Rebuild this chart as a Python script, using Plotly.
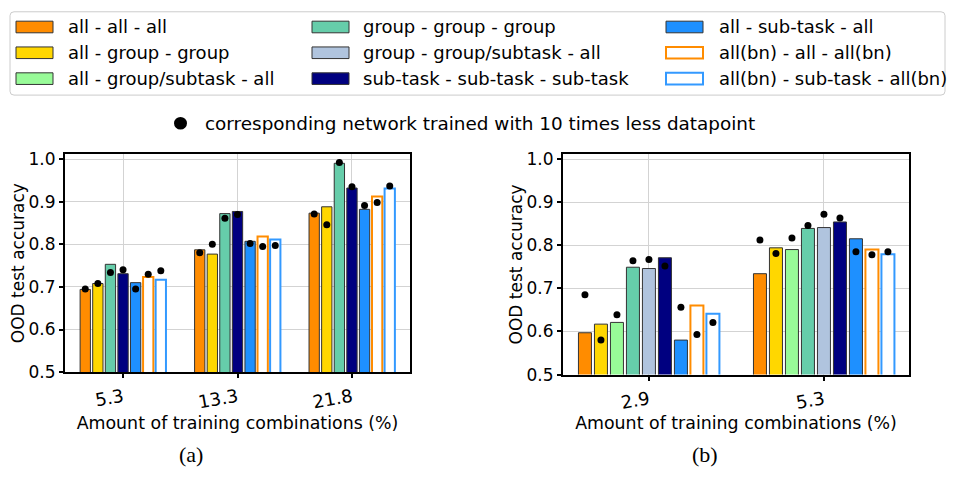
import plotly.graph_objects as go

# ---------------- data ----------------
names = [
    "all - all - all",
    "all - group - group",
    "all - group/subtask - all",
    "group - group - group",
    "group - group/subtask - all",
    "sub-task - sub-task - sub-task",
    "all - sub-task - all",
    "all(bn) - all - all(bn)",
    "all(bn) - sub-task - all(bn)",
]

# panel (a)
a_ticks = ["5.3", "13.3", "21.8"]
a_series = [
    "all - all - all",
    "all - group - group",
    "group - group - group",
    "sub-task - sub-task - sub-task",
    "all - sub-task - all",
    "all(bn) - all - all(bn)",
    "all(bn) - sub-task - all(bn)",
]
a_acc = {
    "all - all - all": [0.694, 0.787, 0.873],
    "all - group - group": [0.708, 0.777, 0.888],
    "group - group - group": [0.753, 0.872, 0.990],
    "sub-task - sub-task - sub-task": [0.731, 0.877, 0.932],
    "all - sub-task - all": [0.710, 0.807, 0.882],
    "all(bn) - all - all(bn)": [0.723, 0.818, 0.912],
    "all(bn) - sub-task - all(bn)": [0.717, 0.811, 0.931],
}
a_acc_small = {
    "all - all - all": [0.695, 0.780, 0.871],
    "all - group - group": [0.708, 0.800, 0.846],
    "group - group - group": [0.734, 0.861, 0.992],
    "sub-task - sub-task - sub-task": [0.740, 0.870, 0.935],
    "all - sub-task - all": [0.695, 0.802, 0.891],
    "all(bn) - all - all(bn)": [0.730, 0.795, 0.898],
    "all(bn) - sub-task - all(bn)": [0.738, 0.797, 0.937],
}

# panel (b)
b_ticks = ["2.9", "5.3"]
b_series = names
b_acc = {
    "all - all - all": [0.597, 0.734],
    "all - group - group": [0.617, 0.794],
    "all - group/subtask - all": [0.621, 0.790],
    "group - group - group": [0.749, 0.839],
    "group - group/subtask - all": [0.746, 0.841],
    "sub-task - sub-task - sub-task": [0.771, 0.854],
    "all - sub-task - all": [0.580, 0.815],
    "all(bn) - all - all(bn)": [0.660, 0.790],
    "all(bn) - sub-task - all(bn)": [0.641, 0.779],
}
b_acc_small = {
    "all - all - all": [0.685, 0.812],
    "all - group - group": [0.580, 0.781],
    "all - group/subtask - all": [0.639, 0.817],
    "group - group - group": [0.764, 0.846],
    "group - group/subtask - all": [0.767, 0.872],
    "sub-task - sub-task - sub-task": [0.752, 0.863],
    "all - sub-task - all": [0.656, 0.785],
    "all(bn) - all - all(bn)": [0.593, 0.778],
    "all(bn) - sub-task - all(bn)": [0.621, 0.785],
}

# ---------------- styles ----------------
FONT = "DejaVu Sans"
EDGE = "#333333"
style = {
    "all - all - all": ("#FF8C00", EDGE, 1),
    "all - group - group": ("#FFD700", EDGE, 1),
    "all - group/subtask - all": ("#98FB98", EDGE, 1),
    "group - group - group": ("#66CDAA", EDGE, 1),
    "group - group/subtask - all": ("#B0C4DE", EDGE, 1),
    "sub-task - sub-task - sub-task": ("#000080", EDGE, 1),
    "all - sub-task - all": ("#1E90FF", EDGE, 1),
    "all(bn) - all - all(bn)": ("#FFFFFF", "#FF8C00", 2),
    "all(bn) - sub-task - all(bn)": ("#FFFFFF", "#3399FF", 2),
}

W, H = 955, 480


def px(x):
    return x / W


def py(y):
    return 1 - y / H


fig = go.Figure()


def add_panel(series, acc, acc_small, ngroups, pitch, width, xa, ya):
    n = len(series)
    for i, name in enumerate(series):
        off = (i - (n - 1) / 2) * pitch
        xs = [g + off for g in range(ngroups)]
        fill, edge, lw = style[name]
        fig.add_trace(go.Bar(
            x=xs, y=acc[name], width=width, name=name,
            marker=dict(color=fill, line=dict(color=edge, width=lw)),
            xaxis=xa, yaxis=ya, showlegend=False,
        ))
        fig.add_trace(go.Scatter(
            x=xs, y=acc_small[name], mode="markers",
            marker=dict(color="black", size=7),
            xaxis=xa, yaxis=ya, showlegend=False, cliponaxis=False,
        ))


add_panel(a_series, a_acc, a_acc_small, len(a_ticks), 0.110, 0.090, "x", "y")
add_panel(b_series, b_acc, b_acc_small, len(b_ticks), 0.0914, 0.0743, "x2", "y2")

yticks = [0.5, 0.6, 0.7, 0.8, 0.9, 1.0]
common_axis = dict(
    showline=True, linecolor="black", linewidth=2, mirror=True,
    showgrid=True, gridcolor="#d3d3d3", gridwidth=1,
    ticks="outside", ticklen=4, tickwidth=1.5, tickcolor="black",
    tickfont=dict(family=FONT, size=17, color="black"),
    zeroline=False,
)
x_tick_font = dict(family=FONT, size=18, color="black")
x_title_font = dict(family=FONT, size=17.4)

fig.update_layout(
    width=W, height=H,
    margin=dict(l=0, r=0, t=0, b=0),
    paper_bgcolor="white", plot_bgcolor="white",
    barmode="overlay",
    font=dict(family=FONT, color="black"),
    xaxis=dict(
        domain=[px(65), px(410)], range=[-0.507, 2.507],
        tickvals=list(range(len(a_ticks))), ticktext=a_ticks, tickangle=-10,
        ticklabelstandoff=2,
        title=dict(text="Amount of training combinations (%)", font=x_title_font, standoff=5),
        anchor="y", **{**common_axis, "tickfont": x_tick_font},
    ),
    yaxis=dict(
        domain=[py(379), py(154)], range=[0.5, 1.0114],
        tickvals=yticks, ticktext=[f"{v:.1f}" for v in yticks],
        title=dict(text="OOD test accuracy", font=dict(family=FONT, size=17), standoff=0),
        anchor="x", **common_axis,
    ),
    xaxis2=dict(
        domain=[px(563), px(909)], range=[-0.491, 1.486],
        tickvals=list(range(len(b_ticks))), ticktext=b_ticks, tickangle=-10,
        ticklabelstandoff=2,
        title=dict(text="Amount of training combinations (%)", font=x_title_font, standoff=5),
        anchor="y2", **{**common_axis, "tickfont": x_tick_font},
    ),
    yaxis2=dict(
        domain=[py(381.5), py(154)], range=[0.5, 1.0112],
        tickvals=yticks, ticktext=[f"{v:.1f}" for v in yticks],
        title=dict(text="OOD test accuracy", font=dict(family=FONT, size=17), standoff=0),
        anchor="x2", **common_axis,
    ),
)

# ---------------- legend (three columns, column-major) ----------------
shapes = []
annotations = []

# rounded legend frame
x0, x1, y0, y1, r = 10, 945, 7, 93, 4
frame = (
    f"M {px(x0 + r)},{py(y0)} L {px(x1 - r)},{py(y0)} "
    f"Q {px(x1)},{py(y0)} {px(x1)},{py(y0 + r)} "
    f"L {px(x1)},{py(y1 - r)} Q {px(x1)},{py(y1)} {px(x1 - r)},{py(y1)} "
    f"L {px(x0 + r)},{py(y1)} Q {px(x0)},{py(y1)} {px(x0)},{py(y1 - r)} "
    f"L {px(x0)},{py(y0 + r)} Q {px(x0)},{py(y0)} {px(x0 + r)},{py(y0)} Z"
)
shapes.append(dict(type="path", xref="paper", yref="paper", path=frame,
                   line=dict(color="#cccccc", width=1), fillcolor="white", layer="below"))

col_patch = [16, 312, 666]
col_text = [66, 361, 717]
row_y = [22.7, 49.3, 76.0]
patch_w, patch_h = 37, 12
for i, name in enumerate(names):
    c, rr = divmod(i, 3)
    fill, edge, lw = style[name]
    cy = row_y[rr]
    shapes.append(dict(
        type="rect", xref="paper", yref="paper",
        x0=px(col_patch[c]), x1=px(col_patch[c] + patch_w),
        y0=py(cy + patch_h / 2), y1=py(cy - patch_h / 2),
        fillcolor=fill, line=dict(color=edge, width=lw),
    ))
    annotations.append(dict(
        text=name, xref="paper", yref="paper", x=px(col_text[c]), y=py(cy),
        xanchor="left", yanchor="middle", showarrow=False,
        font=dict(family=FONT, size=18, color="black"),
    ))

# marker key for the reduced-data networks
shapes.append(dict(type="circle", xref="paper", yref="paper",
                   x0=px(174), x1=px(187), y0=py(128.5), y1=py(115.5),
                   fillcolor="black", line=dict(color="black", width=0)))
annotations.append(dict(
    text="corresponding network trained with 10 times less datapoint",
    xref="paper", yref="paper", x=px(203), y=py(122),
    xanchor="left", yanchor="middle", showarrow=False,
    font=dict(family=FONT, size=18.4, color="black"),
))

# sub-figure captions
for label, cx in (("(a)", 191), ("(b)", 705)):
    annotations.append(dict(
        text=label, xref="paper", yref="paper", x=px(cx), y=py(464),
        xanchor="center", yanchor="middle", showarrow=False,
        font=dict(family="Liberation Serif", size=22, color="black"),
    ))

fig.update_layout(shapes=shapes, annotations=annotations)

fig.write_html("out.html")
